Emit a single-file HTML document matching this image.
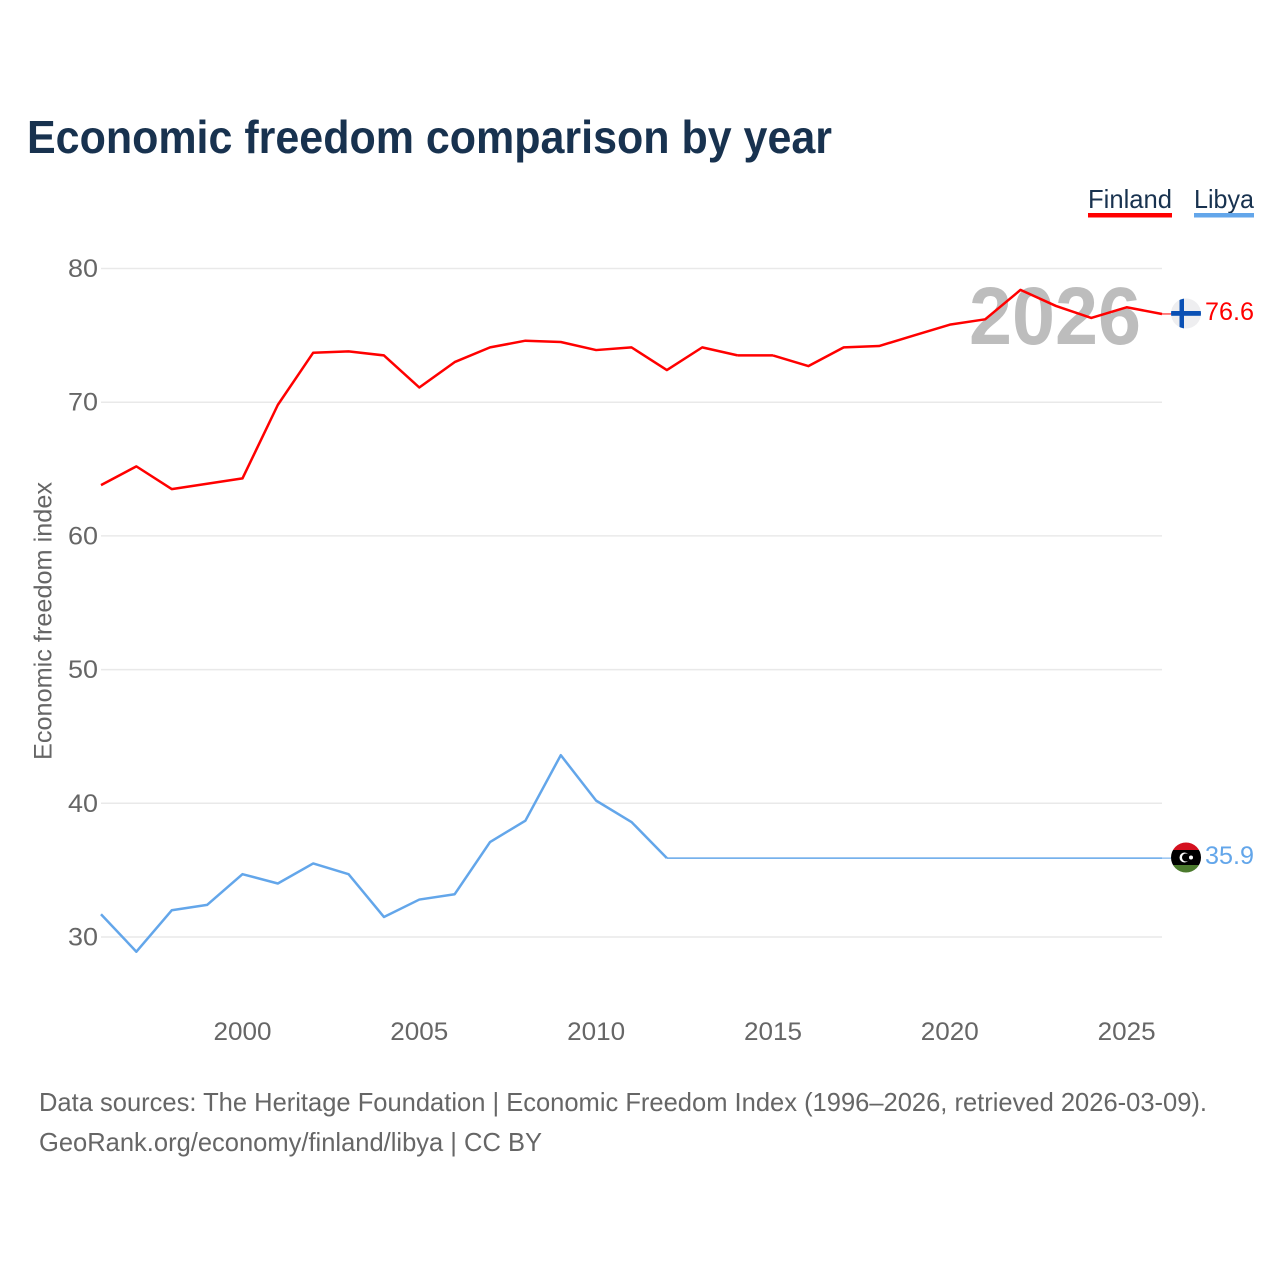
<!DOCTYPE html>
<html lang="en">
<head>
<meta charset="utf-8">
<title>Economic freedom comparison by year</title>
<style>
html,body{margin:0;padding:0;background:#fff;width:1280px;height:1280px;overflow:hidden}
svg{display:block}
text{font-family:"Liberation Sans",sans-serif}
</style>
</head>
<body>
<svg id="chart" width="1280" height="1280" viewBox="0 0 1280 1280" xmlns="http://www.w3.org/2000/svg">
  <rect width="1280" height="1280" fill="#fff"/>
  <text x="27" y="153" font-size="46" font-weight="700" fill="#18324f" textLength="805" lengthAdjust="spacingAndGlyphs">Economic freedom comparison by year</text>

  <text x="1088" y="208" font-size="26" fill="#18324f" textLength="84" lengthAdjust="spacingAndGlyphs">Finland</text>
  <rect x="1088" y="213" width="84" height="4.5" fill="#ff0000"/>
  <text x="1194" y="208" font-size="26" fill="#18324f" textLength="60" lengthAdjust="spacingAndGlyphs">Libya</text>
  <rect x="1194" y="213" width="60" height="4.5" fill="#63a6ea"/>

  <g id="grid"></g>
  <g id="yticks"></g>
  <g id="xticks"></g>

  <text transform="translate(51.5,621) rotate(-90)" text-anchor="middle" font-size="25" fill="#666" textLength="278" lengthAdjust="spacingAndGlyphs">Economic freedom index</text>

  <text id="year-label" x="969" y="344" font-size="82" font-weight="700" fill="#bdbdbd" textLength="172" lengthAdjust="spacingAndGlyphs" style="mix-blend-mode:multiply">2026</text>

  <g id="series"></g>

  <defs>
    <clipPath id="clip-fi"><circle cx="1186" cy="313.5" r="15"/></clipPath>
    <clipPath id="clip-ly"><circle cx="1186" cy="857.5" r="15"/></clipPath>
  </defs>

  <g id="flag-finland" clip-path="url(#clip-fi)">
    <rect x="1171" y="298.5" width="30" height="30" fill="#eeeef0"/>
    <rect x="1179.5" y="298.5" width="4.5" height="30" fill="#0a50b4"/>
    <rect x="1171" y="311" width="30" height="4.8" fill="#0a50b4"/>
  </g>
  <g id="flag-libya" clip-path="url(#clip-ly)">
    <rect x="1171" y="842" width="30" height="8" fill="#d4101f"/>
    <rect x="1171" y="850" width="30" height="15" fill="#000"/>
    <rect x="1171" y="865" width="30" height="8" fill="#4b7a2d"/>
    <circle cx="1184.5" cy="857.5" r="5" fill="#fff"/>
    <circle cx="1186" cy="857.5" r="4" fill="#000"/>
    <circle cx="1191" cy="857.5" r="2" fill="#fff"/>
  </g>

  <text x="1205" y="320" font-size="25" fill="#ff0000" textLength="49" lengthAdjust="spacingAndGlyphs">76.6</text>
  <text x="1205" y="864" font-size="25" fill="#63a6ea" textLength="49" lengthAdjust="spacingAndGlyphs">35.9</text>

  <text x="39" y="1111" font-size="26" fill="#666" textLength="1168" lengthAdjust="spacingAndGlyphs">Data sources: The Heritage Foundation | Economic Freedom Index (1996–2026, retrieved 2026-03-09).</text>
  <text x="39" y="1151" font-size="26" fill="#666" textLength="503" lengthAdjust="spacingAndGlyphs">GeoRank.org/economy/finland/libya | CC BY</text>
</svg>
<script>
const years = [1996,1997,1998,1999,2000,2001,2002,2003,2004,2005,2006,2007,2008,2009,2010,2011,2012,2013,2014,2015,2016,2017,2018,2019,2020,2021,2022,2023,2024,2025,2026];
const finland = [63.8,65.2,63.5,63.9,64.3,69.8,73.7,73.8,73.5,71.1,73.0,74.1,74.6,74.5,73.9,74.1,72.4,74.1,73.5,73.5,72.7,74.1,74.2,75.0,75.8,76.2,78.4,77.2,76.3,77.1,76.6];
const libya = [31.7,28.9,32.0,32.4,34.7,34.0,35.5,34.7,31.5,32.8,33.2,37.1,38.7,43.6,40.2,38.6,35.9,35.9,35.9,35.9,35.9,35.9,35.9,35.9,35.9,35.9,35.9,35.9,35.9,35.9,35.9];
const yTickValues = [30,40,50,60,70,80];
const xTickValues = [2000,2005,2010,2015,2020,2025];

const NS = 'http://www.w3.org/2000/svg';
const xAxis = function (year) { return 101 + (year - 1996) * (1162 - 101) / 30; };
const yAxis = function (value) { return 937 - (value - 30) * (937 - 268.5) / 50; };

function make(tag, attrs, text) {
  const el = document.createElementNS(NS, tag);
  Object.keys(attrs).forEach(function (k) { el.setAttribute(k, attrs[k]); });
  if (text !== undefined) el.textContent = text;
  return el;
}

const grid = document.getElementById('grid');
const yticks = document.getElementById('yticks');
const xticks = document.getElementById('xticks');
const series = document.getElementById('series');

yTickValues.forEach(function (v) {
  const line = make('line', {x1: 101, x2: 1162, y1: yAxis(v), y2: yAxis(v), stroke: '#e9e9e9', 'stroke-width': 1.5});
  
  
  grid.appendChild(line);
  const label = make('text', {x: 68, y: yAxis(v) + 8.5, 'font-size': 25, fill: '#666', textLength: 30, lengthAdjust: 'spacingAndGlyphs'}, String(v));
  
  
  yticks.appendChild(label);
});

xTickValues.forEach(function (y) {
  const label = make('text', {x: xAxis(y) - 29, y: 1040, 'font-size': 25, fill: '#666', textLength: 58, lengthAdjust: 'spacingAndGlyphs'}, String(y));
  
  
  xticks.appendChild(label);
});

function pointsFor(values, from, to) {
  const out = [];
  for (let i = from; i <= to; i++) {
    out.push(xAxis(years[i]).toFixed(2) + ',' + yAxis(values[i]).toFixed(2));
  }
  return out.join(' ');
}

/* Long flat runs rasterise thinner in the reference, so they get a lighter stroke. */
function drawSeries(values, color, name) {
  let start = 0;
  for (let i = 1; i <= values.length; i++) {
    const flatPrev = values[i - 1] === values[i - 2];
    const flatNext = i < values.length && values[i] === values[i - 1];
    if (i === values.length || (i > 1 && flatPrev !== flatNext)) {
      const isFlat = i - start > 2 && values[start] === values[start + 1];
      const run = make('polyline', {points: pointsFor(values, start, i - 1), fill: 'none', stroke: color, 'stroke-width': isFlat ? 1.4 : 2.5, 'stroke-linejoin': 'round', 'stroke-linecap': 'butt'});
      
      
      series.appendChild(run);
      start = i - 1;
    }
  }
}

drawSeries(finland, '#ff0000', 'finland');
drawSeries(libya, '#63a6ea', 'libya');

const lastX = xAxis(years[years.length - 1]);
const finConn = make('line', {x1: lastX, x2: 1171, y1: yAxis(finland[finland.length - 1]), y2: yAxis(finland[finland.length - 1]), stroke: '#ff0000', 'stroke-width': 1});


series.appendChild(finConn);

const libConn = make('line', {x1: lastX, x2: 1171, y1: yAxis(libya[libya.length - 1]), y2: yAxis(libya[libya.length - 1]), stroke: '#63a6ea', 'stroke-width': 1});


series.appendChild(libConn);
</script>
</body>
</html>
